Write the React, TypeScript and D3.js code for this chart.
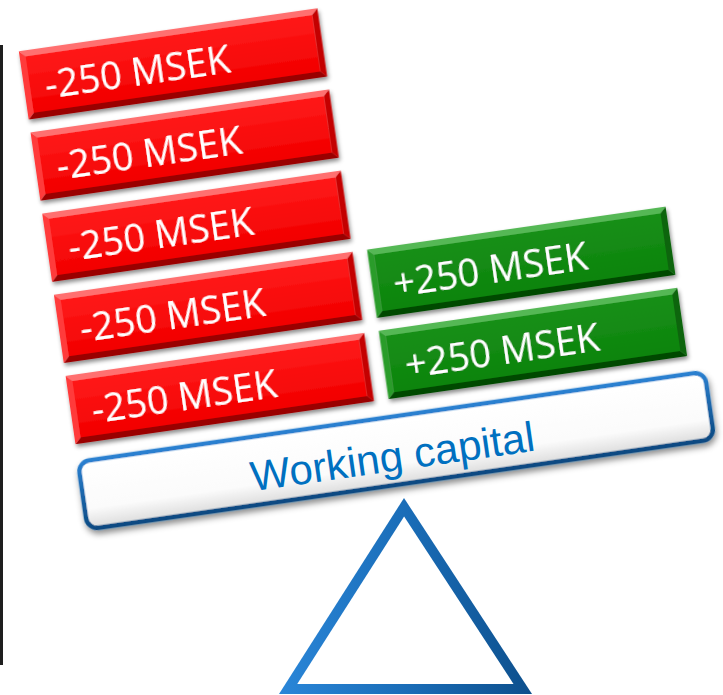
import React from 'react'
import * as d3 from 'd3'

// values on the scale
const negBlocks = [-250, -250, -250, -250, -250]
const posBlocks = [250, 250]
const unit = 'MSEK'
const beamLabel = 'Working capital'

const W = 723
const H = 695
const tilt = -8.2

const palette = {
  neg: { face: '#ff0000', top: '#ff7070', left: '#ff3a3a', right: '#c40000', bottom: '#9a0000' },
  pos: { face: '#108a10', top: '#55b855', left: '#2c9c2c', right: '#0a650a', bottom: '#064a06' }
}

function Block({ x, y, w, h, kind, label }) {
  const b = 6
  const c = palette[kind]
  const poly = pts => pts.map(p => p.join(',')).join(' ')
  return (
    <g filter="url(#blockShadow)">
      <polygon points={poly([[x, y], [x + w, y], [x + w - b, y + b], [x + b, y + b]])} fill={c.top} />
      <polygon points={poly([[x, y + h], [x + w, y + h], [x + w - b, y + h - b], [x + b, y + h - b]])} fill={c.bottom} />
      <polygon points={poly([[x, y], [x + b, y + b], [x + b, y + h - b], [x, y + h]])} fill={c.left} />
      <polygon points={poly([[x + w, y], [x + w - b, y + b], [x + w - b, y + h - b], [x + w, y + h]])} fill={c.right} />
      <rect x={x + b} y={y + b} width={w - 2 * b} height={h - 2 * b} fill={`url(#face-${kind})`} />
      <text
        x={x + 21}
        y={y + 51}
        fill="#fff"
        fontFamily="'Open Sans', sans-serif"
        fontSize={38}
      >
        {label}
      </text>
    </g>
  )
}

function App() {
  const beamW = 633
  const beamH = 68
  const blockH = 69

  // which side of the beam a pile sits on
  const side = d3.scaleBand().domain(['neg', 'pos']).range([0, 618]).paddingInner(0.047)
  // slot index -> bottom edge of the block, in the beam's frame
  const stack = d3.scaleLinear().domain([0, 5]).range([-18, -18 - 5 * 82])

  const fmt = v => (v > 0 ? `+${v}` : `${v}`) + ' ' + unit

  const piles = [
    { kind: 'neg', values: negBlocks },
    { kind: 'pos', values: posBlocks }
  ]

  // fulcrum
  const apex = [404, 498]
  const baseL = [279, 694]
  const baseR = [532, 694]
  const a = Math.hypot(baseR[0] - baseL[0], baseR[1] - baseL[1])
  const bb = Math.hypot(apex[0] - baseR[0], apex[1] - baseR[1])
  const cc = Math.hypot(apex[0] - baseL[0], apex[1] - baseL[1])
  const per = a + bb + cc
  const inc = [
    (a * apex[0] + bb * baseL[0] + cc * baseR[0]) / per,
    (a * apex[1] + bb * baseL[1] + cc * baseR[1]) / per
  ]
  const area = Math.abs((baseL[0] - apex[0]) * (baseR[1] - apex[1]) - (baseR[0] - apex[0]) * (baseL[1] - apex[1])) / 2
  const r = (2 * area) / per
  const k = (r - 10) / r
  const shrink = p => [inc[0] + (p[0] - inc[0]) * k, inc[1] + (p[1] - inc[1]) * k]
  const outer = [apex, baseL, baseR]
  const inner = outer.map(shrink)

  return (
    <svg width={W} height={H} style={{ position: 'absolute', left: 0, top: 0, background: '#fff' }}>
      <defs>
        <filter id="blockShadow" x="-5%" y="-20%" width="110%" height="150%">
          <feDropShadow dx="1" dy="3" stdDeviation="2" floodColor="#000" floodOpacity="0.45" />
        </filter>
        <filter id="beamShadow" x="-5%" y="-20%" width="110%" height="160%">
          <feDropShadow dx="1" dy="4" stdDeviation="3" floodColor="#000" floodOpacity="0.45" />
        </filter>
        <linearGradient id="face-neg" x1="0" y1="0" x2="0" y2="1">
          <stop offset="0" stopColor="#ff1a1a" />
          <stop offset="1" stopColor="#f20000" />
        </linearGradient>
        <linearGradient id="face-pos" x1="0" y1="0" x2="0" y2="1">
          <stop offset="0" stopColor="#178f17" />
          <stop offset="1" stopColor="#0d840d" />
        </linearGradient>
        <linearGradient id="beamFill" x1="0" y1="0" x2="0" y2="1">
          <stop offset="0" stopColor="#ffffff" />
          <stop offset="0.7" stopColor="#fbfbfb" />
          <stop offset="1" stopColor="#dcdcdc" />
        </linearGradient>
        <linearGradient id="beamStroke" x1="0" y1="0" x2="0" y2="1">
          <stop offset="0" stopColor="#2a80d0" />
          <stop offset="1" stopColor="#0b4a82" />
        </linearGradient>
        <linearGradient id="triFill" x1="0" y1="0" x2="1" y2="0">
          <stop offset="0" stopColor="#2a86d8" />
          <stop offset="0.5" stopColor="#1a6db8" />
          <stop offset="1" stopColor="#0d4f8c" />
        </linearGradient>
      </defs>

      <rect x={0} y={45} width={3} height={620} fill="#1e1e1e" />

      <polygon points={outer.map(p => p.join(',')).join(' ')} fill="url(#triFill)" />
      <polygon points={inner.map(p => p.join(',')).join(' ')} fill="#fff" />

      <g transform={`translate(78,462) rotate(${tilt})`}>
        {piles.map(pile =>
          pile.values.map((v, i) => (
            <Block
              key={pile.kind + i}
              kind={pile.kind}
              x={side(pile.kind)}
              y={stack(i) - blockH}
              w={side.bandwidth()}
              h={blockH}
              label={fmt(v)}
            />
          ))
        )}
        <rect
          x={0}
          y={0}
          width={beamW}
          height={beamH}
          rx={11}
          fill="url(#beamFill)"
          stroke="url(#beamStroke)"
          strokeWidth={4.5}
          filter="url(#beamShadow)"
        />
        <text
          x={312}
          y={54}
          textAnchor="middle"
          fill="#0070c0"
          fontFamily="'Liberation Sans', Arial, sans-serif"
          fontSize={42}
        >
          {beamLabel}
        </text>
      </g>
    </svg>
  )
}

export default App
